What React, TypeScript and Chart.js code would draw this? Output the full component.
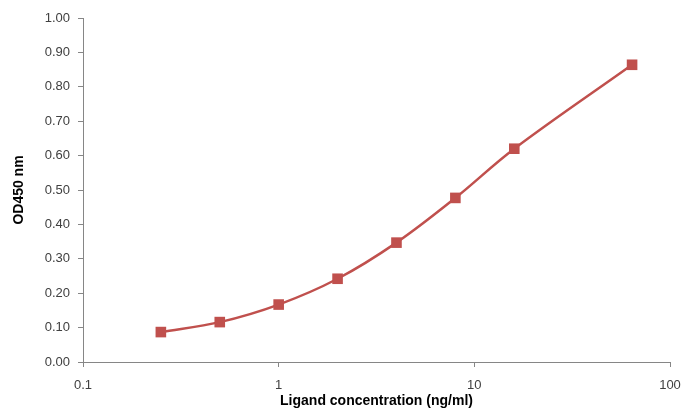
import React, { useEffect, useRef } from "react";
import { Chart, registerables } from "chart.js";

Chart.register(...registerables);

const concentrations = [0.25, 0.5, 1, 2, 4, 8, 16, 64];
const odValues = [0.087, 0.116, 0.167, 0.242, 0.347, 0.477, 0.62, 0.864];
const xTickValues = [0.1, 1, 10, 100];
const xTitle = "Ligand concentration (ng/ml)";
const yTitle = "OD450 nm";

export default function App() {
  const ref = useRef<HTMLCanvasElement | null>(null);

  useEffect(() => {
    document.body.style.margin = "0";
    const canvas = ref.current;
    if (!canvas) return;
    const red = "#C0504D";
    const axisColor = "#868686";
    const tickFont = { family: "Liberation Sans", size: 13 };
    const chart = new Chart(canvas, {
      type: "line",
      data: {
        datasets: [
          {
            data: concentrations.map((c, i) => ({ x: c, y: odValues[i] })),
            borderColor: red,
            backgroundColor: red,
            borderWidth: 2.5,
            tension: 0.35,
            pointStyle: "rect",
            pointRadius: 7.5,
            pointHoverRadius: 7.5,
            pointBorderWidth: 0,
            fill: false,
          },
        ],
      },
      options: {
        responsive: false,
        animation: false,
        layout: { padding: { top: 18, right: 14, left: 0, bottom: 0 } },
        plugins: {
          legend: { display: false },
          tooltip: { enabled: false },
        },
        scales: {
          x: {
            type: "logarithmic",
            min: 0.1,
            max: 100,
            afterBuildTicks: (scale: any) => {
              scale.ticks = xTickValues.map((v) => ({ value: v }));
            },
            afterFit: (scale: any) => {
              scale.height = 48;
              scale.paddingLeft = 0;
              scale.paddingRight = 0;
            },
            ticks: {
              autoSkip: false,
              maxRotation: 0,
              color: "#404040",
              font: tickFont,
              padding: 11,
              callback: (v: any) => String(Number(v)),
            },
            grid: {
              display: true,
              drawOnChartArea: false,
              drawTicks: true,
              tickLength: 5,
              color: axisColor,
            },
            border: { display: true, color: axisColor, width: 1 },
            title: {
              display: true,
              text: xTitle,
              color: "#000000",
              font: { family: "Liberation Sans", size: 14, weight: "bold" },
              padding: { top: 0, bottom: 0 },
            },
          },
          y: {
            min: 0,
            max: 1,
            afterFit: (scale: any) => {
              scale.width = 83;
              scale.paddingTop = 0;
              scale.paddingBottom = 0;
            },
            ticks: {
              stepSize: 0.1,
              color: "#404040",
              font: tickFont,
              padding: 8,
              callback: (v: any) => Number(v).toFixed(2),
            },
            grid: {
              display: true,
              drawOnChartArea: false,
              drawTicks: true,
              tickLength: 5,
              color: axisColor,
            },
            border: { display: true, color: axisColor, width: 1 },
            title: {
              display: true,
              text: yTitle,
              color: "#000000",
              font: { family: "Liberation Sans", size: 14, weight: "bold" },
              padding: { top: 11, bottom: 0 },
            },
          },
        },
      },
    });
    return () => chart.destroy();
  }, []);

  return (
    <div style={{ width: 684, height: 410, background: "#fff" }}>
      <canvas ref={ref} width={684} height={410} style={{ display: "block" }} />
    </div>
  );
}
